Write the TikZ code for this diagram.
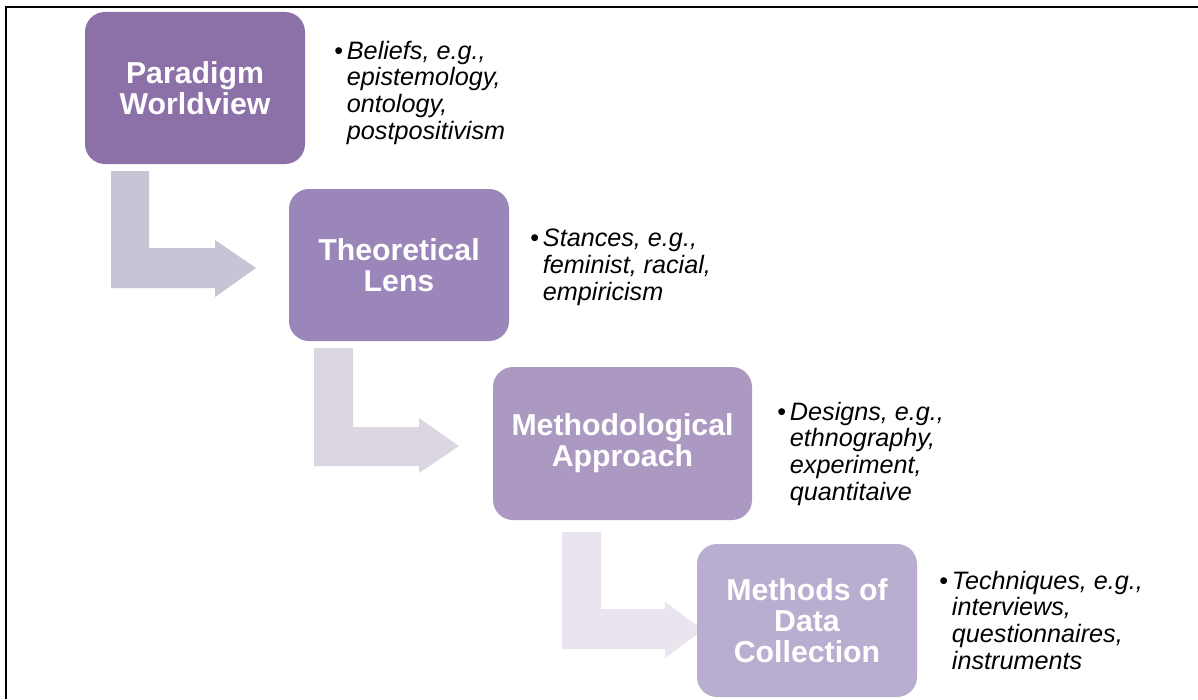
\documentclass[tikz,border=0pt]{standalone}
\usepackage{fontspec}
\setmainfont{Liberation Sans}
\definecolor{boxA}{HTML}{8B71A8}
\definecolor{boxB}{HTML}{9A86B8}
\definecolor{boxC}{HTML}{AC99C2}
\definecolor{boxD}{HTML}{BAAED0}
\definecolor{arrA}{HTML}{C9C3D6}
\definecolor{arrB}{HTML}{DCD6E3}
\definecolor{arrC}{HTML}{EAE4EF}
\begin{document}
\begin{tikzpicture}[x=0.75pt,y=-0.75pt,
  box/.style={rounded corners=15pt, minimum width=165pt, minimum height=114pt, inner sep=0pt,
    text=white, align=center, font=\fontsize{22.7}{23.25}\selectfont\bfseries},
  notes/.style={anchor=base west, align=left, inner sep=0pt,
    font=\fontsize{18.9}{20}\selectfont\itshape},
  framerule/.style={line width=1.7pt, black}]
\useasboundingbox (0,0) rectangle (1198,699);
\fill[white] (0,0) rectangle (1198,699);
% frame
\draw[framerule] (6,699) -- (6,7) -- (1198,7);
% bent arrows
\fill[arrA] (111,171) -- (149,171) -- (149,248) -- (215,248) -- (215,240) -- (256,268)
  -- (215,297) -- (215,288) -- (111,288) -- cycle;
\fill[arrB] (314,348) -- (353,348) -- (353,427) -- (419,427) -- (419,418) -- (459,446)
  -- (419,473) -- (419,466) -- (314,466) -- cycle;
\fill[arrC] (562,532) -- (601,532) -- (601,609) -- (665,609) -- (665,602) -- (703,630)
  -- (665,658) -- (665,649) -- (562,649) -- cycle;
% boxes
\node[box, fill=boxA] (b1) at (195,88) {Paradigm\\Worldview};
\node[box, fill=boxB] (b2) at (399,265) {Theoretical\\Lens};
\node[box, fill=boxC, minimum width=194.25pt, minimum height=114.75pt] (b3) at (622.5,443.5) {Methodological\\Approach};
\node[box, fill=boxD, minimum height=114.75pt] (b4) at (807,620.5) {Methods of\\Data\\Collection};
% notes (anchored at the baseline of the last line)
\node[notes] (n1) at (334,139) {\makebox[9.5pt][l]{\upshape•}Beliefs, e.g.,\\\hspace*{9.5pt}epistemology,\\\hspace*{9.5pt}ontology,\\\hspace*{9.5pt}postpositivism};
\node[notes] (n2) at (530,300) {\makebox[9.5pt][l]{\upshape•}Stances, e.g.,\\\hspace*{9.5pt}feminist, racial,\\\hspace*{9.5pt}empiricism};
\node[notes] (n3) at (777,500) {\makebox[9.5pt][l]{\upshape•}Designs, e.g.,\\\hspace*{9.5pt}ethnography,\\\hspace*{9.5pt}experiment,\\\hspace*{9.5pt}quantitaive};
\node[notes] (n4) at (939,669) {\makebox[9.5pt][l]{\upshape•}Techniques, e.g.,\\\hspace*{9.5pt}interviews,\\\hspace*{9.5pt}questionnaires,\\\hspace*{9.5pt}instruments};
\end{tikzpicture}
\end{document}
